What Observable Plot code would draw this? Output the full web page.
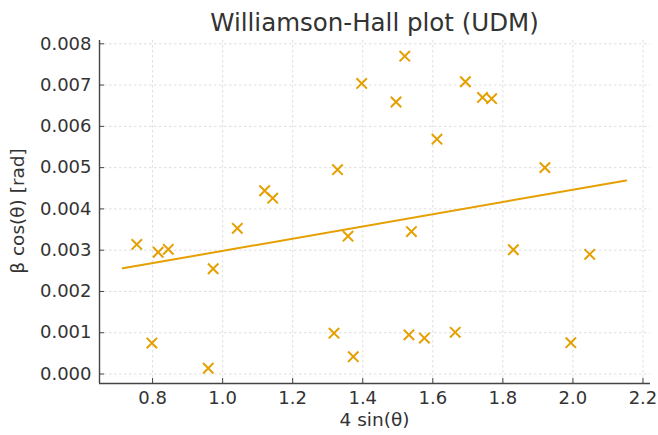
<!DOCTYPE html>
<html>
<head>
<meta charset="utf-8">
<script src="https://cdn.jsdelivr.net/npm/d3@7"></script>
<script src="https://cdn.jsdelivr.net/npm/@observablehq/plot@0.6"></script>
<style>
  html, body { margin: 0; padding: 0; background: #fff; }
  #wrap { position: relative; width: 658px; height: 435px; font-family: "DejaVu Sans", sans-serif; color: #333; }
  #title { position: absolute; left: 99px; width: 551px; top: 10.5px; text-align: center; font-size: 24.5px; line-height: 24.5px; white-space: nowrap; }
  #xlabel { position: absolute; left: 99px; width: 551px; top: 410.5px; text-align: center; font-size: 18.5px; line-height: 18.5px; white-space: nowrap; }
  #ylabel { position: absolute; left: 18px; top: 211px; transform: translate(-50%, -50%) rotate(-90deg); font-size: 18.5px; line-height: 18.5px; white-space: nowrap; }
  #chart svg { display: block; }
</style>
</head>
<body>
<div id="wrap">
  <div id="chart"></div>
  <div id="title">Williamson-Hall plot (UDM)</div>
  <div id="xlabel">4 sin(θ)</div>
  <div id="ylabel">β cos(θ) [rad]</div>
</div>
<script>
// Data
const sinX = [0.755, 0.816, 0.845, 0.798, 0.973, 0.959, 1.042, 1.358, 1.318, 1.373, 1.120, 1.143, 1.328, 1.397,
              1.520, 1.495, 1.612, 1.693, 1.742, 1.768, 1.920, 1.539, 1.830, 2.048, 1.532, 1.576, 1.664, 1.994];
const betaCos = [0.00314, 0.00295, 0.00302, 0.00075, 0.00255, 0.00014, 0.00353, 0.00334, 0.00099, 0.00042, 0.00444, 0.00426, 0.00495, 0.00704,
                 0.00770, 0.00659, 0.00569, 0.00708, 0.00670, 0.00667, 0.00500, 0.00345, 0.00301, 0.00290, 0.00095, 0.00087, 0.00101, 0.00076];
// Linear fit line endpoints
const fitX = [0.715, 2.152];
const fitY = [0.00256, 0.00469];
// Tick labels
const xTicks = [0.8, 1.0, 1.2, 1.4, 1.6, 1.8, 2.0, 2.2];
const yTicks = [0, 0.001, 0.002, 0.003, 0.004, 0.005, 0.006, 0.007, 0.008];

const points = sinX.map((x, i) => ({x, y: betaCos[i]}));
const fit = fitX.map((x, i) => ({x, y: fitY[i]}));

const color = "#E69F00";
const xDomain = [0.6485, 2.2215];
const yDomain = [-0.00023, 0.00808];

const chart = Plot.plot({
  width: 658,
  height: 435,
  marginLeft: 99,
  marginRight: 8,
  marginTop: 40,
  marginBottom: 52,
  style: {fontFamily: "DejaVu Sans, sans-serif", fontSize: "18px", color: "#333", background: "#fff"},
  x: {domain: xDomain, ticks: xTicks},
  y: {domain: yDomain, ticks: yTicks},
  marks: [
    Plot.gridX(xTicks, {stroke: "#d6d6d6", strokeOpacity: 1, strokeDasharray: "2.5,2.5", strokeWidth: 0.8}),
    Plot.gridY(yTicks, {stroke: "#d6d6d6", strokeOpacity: 1, strokeDasharray: "2.5,2.5", strokeWidth: 0.8}),
    Plot.line(fit, {x: "x", y: "y", stroke: color, strokeWidth: 2}),
    Plot.dot(points, {x: "x", y: "y", symbol: "times", r: 4.8, stroke: color, strokeWidth: 2}),
    Plot.ruleX([xDomain[0]], {stroke: "#444", strokeWidth: 1.4}),
    Plot.ruleY([yDomain[0]], {stroke: "#444", strokeWidth: 1.4}),
    Plot.axisX(xTicks, {tickSize: -5, tickPadding: 13, tickFormat: d3.format(".1f"), label: null, fill: "#333", stroke: "#444", fontSize: 18}),
    Plot.axisY(yTicks, {tickSize: -5, tickPadding: 13, tickFormat: d3.format(".3f"), label: null, fill: "#333", stroke: "#444", fontSize: 18})
  ]
});
document.getElementById("chart").appendChild(chart);
</script>
</body>
</html>
